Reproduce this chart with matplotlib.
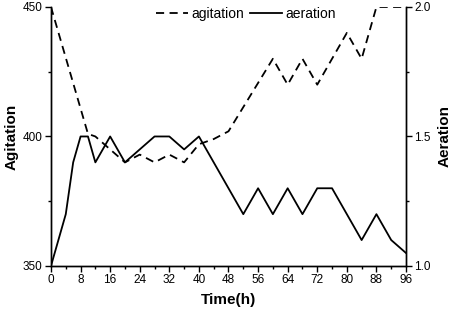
import numpy as np
from matplotlib import pyplot as plt
from matplotlib.ticker import MultipleLocator, FormatStrFormatter

plt.rcParams['font.family'] = ['Liberation Sans', 'DejaVu Sans']

# agitation (left axis, dashed)
t_agit = [0, 10, 12, 16, 20, 24, 28, 32, 36, 40, 44, 48, 60, 64, 68, 72, 80, 84, 88, 92, 96]
agitation = [450, 401, 400, 395, 390, 393, 390, 393, 390, 397, 399, 402, 430, 420, 430, 420, 440, 430, 450, 450, 450]

# aeration (right axis, solid)
t_aer = [0, 4, 6, 8, 10, 12, 16, 20, 24, 28, 32, 36, 40, 52, 56, 60, 64, 68, 72, 76, 84, 88, 92, 96]
aeration = [1.0, 1.2, 1.4, 1.5, 1.5, 1.4, 1.5, 1.4, 1.45, 1.5, 1.5, 1.45, 1.5, 1.2, 1.3, 1.2, 1.3, 1.2, 1.3, 1.3, 1.1, 1.2, 1.1, 1.05]

fig = plt.figure(figsize=(4.54, 3.17), dpi=100)
ax = fig.add_axes([0.1123, 0.161, 0.782, 0.817])
ax2 = ax.twinx()

l1, = ax.plot(t_agit, agitation, color='black', lw=1.3, ls=(0, (4.5, 3)), label='agitation')
l2, = ax2.plot(t_aer, aeration, color='black', lw=1.3, label='aeration')

ax.set_xlim(0, 96)
ax.set_ylim(350, 450)
ax2.set_ylim(1.0, 2.0)

ax.xaxis.set_major_locator(MultipleLocator(8))
ax.xaxis.set_minor_locator(MultipleLocator(4))
ax.yaxis.set_major_locator(MultipleLocator(50))
ax.yaxis.set_minor_locator(MultipleLocator(25))
ax2.yaxis.set_major_locator(MultipleLocator(0.5))
ax2.yaxis.set_minor_locator(MultipleLocator(0.25))
ax2.yaxis.set_major_formatter(FormatStrFormatter('%.1f'))

for a in (ax, ax2):
    a.spines['top'].set_visible(False)
    for s in a.spines.values():
        s.set_linewidth(1.0)
    a.tick_params(which='major', length=4, width=1.0, labelsize=8.5, pad=2)
    a.tick_params(which='minor', length=2.5, width=1.0)

ax.set_xlabel('Time(h)', fontsize=11, fontweight='bold', labelpad=5)
ax.set_ylabel('Agitation', fontsize=11, fontweight='bold', labelpad=3)
ax2.set_ylabel('Aeration', fontsize=11, fontweight='bold', labelpad=5)

ax.legend(handles=[l1, l2], loc='upper center', ncol=2, frameon=False,
          fontsize=10, bbox_to_anchor=(0.55, 1.05), handlelength=2.3,
          columnspacing=0.4, handletextpad=0.25)

fig.savefig('out.png', dpi=100)
